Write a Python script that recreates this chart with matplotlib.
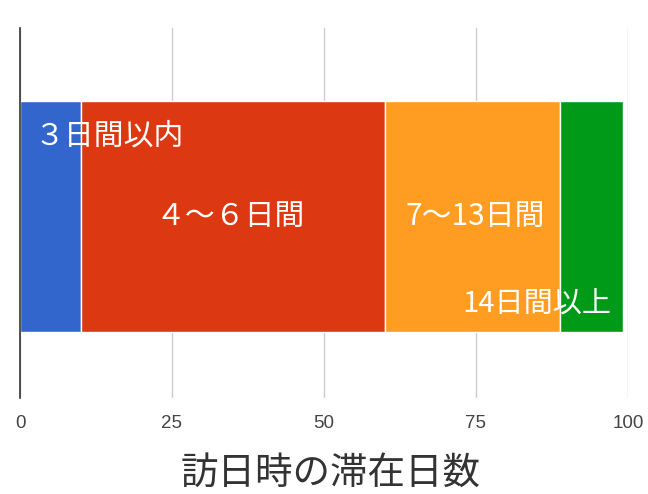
import matplotlib
matplotlib.use("Agg")
import matplotlib.pyplot as plt

plt.rcParams['font.family'] = ['Noto Sans CJK JP', 'DejaVu Sans']

labels = ["３日間以内", "４〜６日間", "7〜13日間", "14日間以上"]
values = [10.0, 50.0, 28.8, 10.4]
colors = ["#3366cc", "#dc3912", "#ff9d22", "#009a18"]
ticks = [0, 25, 50, 75, 100]
title = "訪日時の滞在日数"

fig = plt.figure(figsize=(6.48, 4.94), dpi=100)
ax = fig.add_axes([20/648, 1-398/494, 608/648, 370/494])

left = 0
starts = []
for v, c in zip(values, colors):
    ax.barh(0, v, left=left, height=1.0, color=c, edgecolor="white", linewidth=1, zorder=3)
    starts.append(left)
    left += v

# segment labels (positions as seen in the reference)
ax.text(starts[0] + 2.4, 0.35, labels[0], color="white", fontsize=21.5, va="center", ha="left", zorder=5)
ax.text(starts[1] + 24.6, 0.0, labels[1], color="white", fontsize=21.5, va="center", ha="center", zorder=5)
ax.text(starts[2] + 14.8, 0.0, labels[2], color="white", fontsize=21.5, va="center", ha="center", zorder=5)
ax.text(starts[3] + 8.4, -0.38, labels[3], color="white", fontsize=21, va="center", ha="right", zorder=5)

ax.set_xlim(0, 100)
ax.set_ylim(-0.786, 0.816)
ax.set_yticks([])
ax.set_xticks(ticks)
ax.set_xticklabels([str(t) for t in ticks], color="#444444", fontsize=13.5, family="Liberation Sans")
ax.tick_params(axis="x", length=0, pad=12)
ax.grid(axis="x", color="#cccccc", linewidth=1, zorder=0)
for s in ["top", "right", "bottom"]:
    ax.spines[s].set_visible(False)
ax.spines["left"].set_color("#333333")
ax.spines["left"].set_linewidth(1.2)
ax.spines["left"].set_zorder(4)

fig.text(331/648, 1-473/494, title, ha="center", va="center", fontsize=27, color="#333333")

fig.savefig("out.png", dpi=100)
